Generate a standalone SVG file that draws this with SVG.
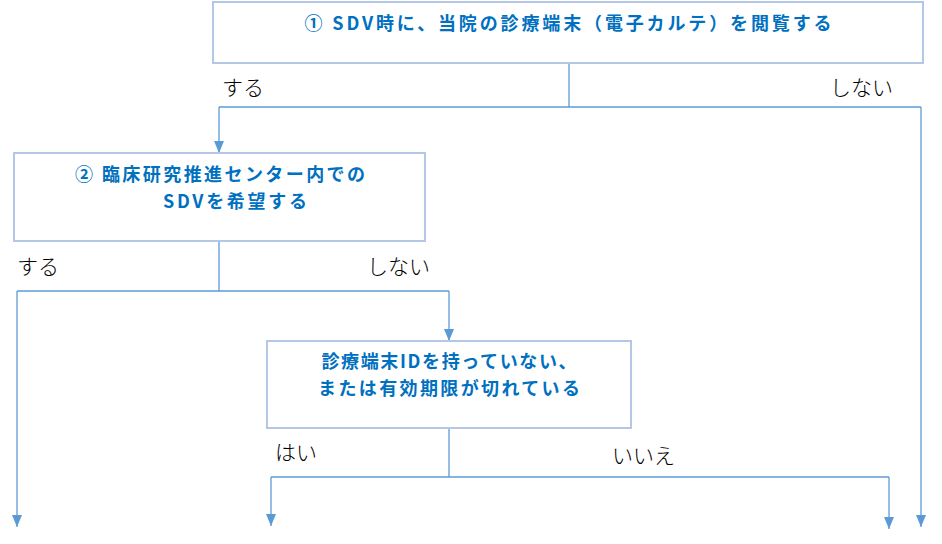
<svg xmlns="http://www.w3.org/2000/svg" width="942" height="544" viewBox="0 0 942 544">
<style>
.box{fill:#fff;stroke:#B4C7E7;stroke-width:2}
.t{font-family:"Noto Sans CJK JP","Liberation Sans",sans-serif;font-weight:bold;font-size:18px;fill:#0070C0;text-anchor:middle}
.l{font-family:"Noto Sans CJK JP","Liberation Sans",sans-serif;font-weight:300;font-size:21px;fill:#000}
.c{fill:none;stroke:#5B9BD5;stroke-width:1.3}
</style>
<defs>
<marker id="ah" markerWidth="10" markerHeight="12" refX="5" refY="12" orient="0" markerUnits="userSpaceOnUse">
<path d="M0,0 L10,0 L5,12 Z" fill="#5B9BD5"/>
</marker>
</defs>
<rect width="942" height="544" fill="#fff"/>
<g id="connectors">
<path class="c" d="M569,63 V107"/>
<path class="c" d="M219,107 H921"/>
<path class="c" d="M219,107 V153" marker-end="url(#ah)"/>
<path class="c" d="M921,107 V527" marker-end="url(#ah)"/>
<path class="c" d="M219,241 V291"/>
<path class="c" d="M17,291 H449"/>
<path class="c" d="M17,291 V527" marker-end="url(#ah)"/>
<path class="c" d="M449,291 V341" marker-end="url(#ah)"/>
<path class="c" d="M449,428 V477"/>
<path class="c" d="M271,477 H889"/>
<path class="c" d="M271,477 V526" marker-end="url(#ah)"/>
<path class="c" d="M889,477 V529" marker-end="url(#ah)"/>
</g>
<g id="node1">
<rect class="box" x="213" y="2" width="710" height="61"/>
<text class="t" x="568" y="30" textLength="527" lengthAdjust="spacing">①  SDV時に、当院の診療端末（電子カルテ）を閲覧する</text>
</g>
<g id="node2">
<rect class="box" x="14" y="153" width="411" height="88"/>
<text class="t" x="220" y="181" textLength="290" lengthAdjust="spacing">② 臨床研究推進センター内での</text>
<text class="t" x="235" y="208" textLength="144" lengthAdjust="spacing">SDVを希望する</text>
</g>
<g id="node3">
<rect class="box" x="267" y="341" width="364" height="87"/>
<text class="t" x="449" y="368" textLength="255" lengthAdjust="spacing">診療端末IDを持っていない、</text>
<text class="t" x="449" y="395" textLength="262" lengthAdjust="spacing">または有効期限が切れている</text>
</g>
<g id="labels">
<text class="l" x="222" y="95">する</text>
<text class="l" x="830" y="95">しない</text>
<text class="l" x="17" y="274">する</text>
<text class="l" x="367" y="274">しない</text>
<text class="l" x="275" y="460">はい</text>
<text class="l" x="612" y="463">いいえ</text>
</g>
</svg>
